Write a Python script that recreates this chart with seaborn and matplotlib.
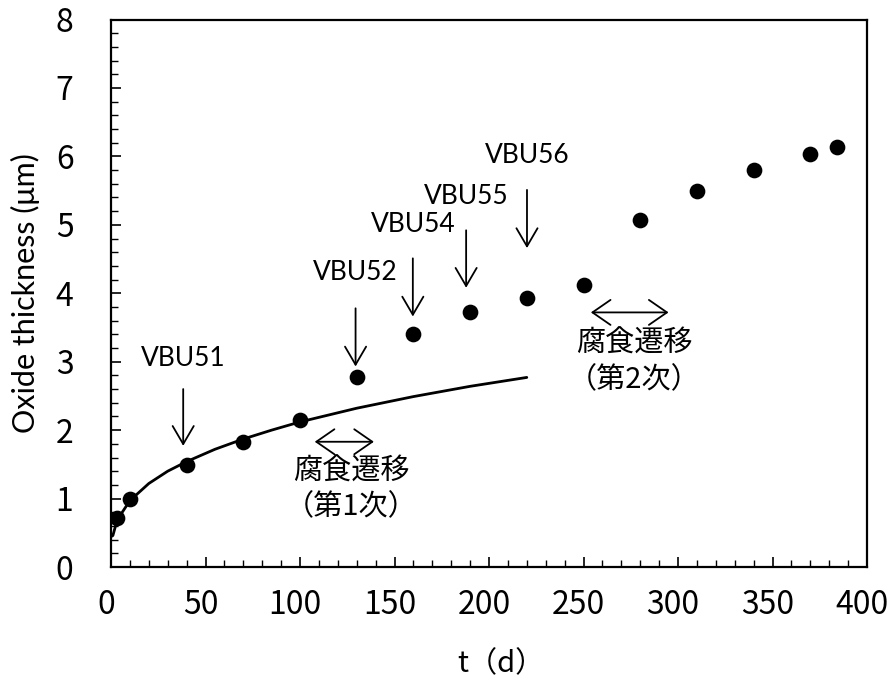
import matplotlib
matplotlib.use("Agg")
import matplotlib.pyplot as plt
import matplotlib.transforms as mtransforms
from matplotlib.ticker import MultipleLocator
import seaborn as sns
import pandas as pd

# measured oxide thickness
t_days = [3, 10, 40, 70, 100, 130, 160, 190, 220, 250, 280, 310, 340, 370, 384]
thickness = [0.71, 0.99, 1.49, 1.83, 2.15, 2.77, 3.41, 3.73, 3.93, 4.12, 5.07, 5.50, 5.80, 6.04, 6.14]

# fitted curve
curve_t = [0.5, 1, 3, 5, 10, 20, 30, 40, 55, 70, 85, 100, 130, 160, 190, 220]
curve_y = [0.45, 0.46, 0.66, 0.76, 0.97, 1.22, 1.40, 1.54, 1.72, 1.87, 2.00, 2.12, 2.32, 2.49, 2.64, 2.77]

# sample annotations
vbu_labels = ["VBU51", "VBU52", "VBU54", "VBU55", "VBU56"]
vbu_x = [38.2, 129.4, 159.7, 187.9, 220.1]
vbu_top = [2.60, 3.78, 4.51, 4.92, 5.51]
vbu_tip = [1.77, 2.93, 3.66, 4.08, 4.66]
vbu_text_y = [3.05, 4.30, 5.00, 5.41, 6.01]

# transition annotations
trans_start = [107.8, 253.9]
trans_end = [139.1, 295.0]
trans_y = [1.83, 3.72]
trans_cx = [127.2, 276.8]
trans_line1_y = [1.39, 3.27]
trans_line2_y = [0.88, 2.73]
trans_line1 = ["腐食遷移", "腐食遷移"]
trans_line2 = ["（第1次）", "（第2次）"]

xticks = [0, 50, 100, 150, 200, 250, 300, 350, 400]
yticks = [0, 1, 2, 3, 4, 5, 6, 7, 8]

sns.set_style("ticks")
plt.rcParams['font.family'] = ['Noto Sans CJK JP', 'DejaVu Sans']
plt.rcParams['text.color'] = 'black'
plt.rcParams['axes.labelcolor'] = 'black'
plt.rcParams['xtick.color'] = 'black'
plt.rcParams['ytick.color'] = 'black'

fig = plt.figure(figsize=(8.9, 6.81), dpi=100)
ax = fig.add_axes([111/890, 1 - 567/681, (867 - 111)/890, (567 - 19.5)/681])

df_pts = pd.DataFrame({"t": t_days, "y": thickness})
df_curve = pd.DataFrame({"t": curve_t, "y": curve_y})

sns.lineplot(data=df_curve, x="t", y="y", ax=ax, color="black", linewidth=2.0,
             sort=True, zorder=2)
sns.scatterplot(data=df_pts, x="t", y="y", ax=ax, color="black", s=128,
                edgecolor="black", linewidth=0, zorder=3)

ax.set_xlim(0, 400)
ax.set_ylim(0, 8)
ax.set_xticks(xticks)
ax.set_yticks(yticks)
ax.xaxis.set_minor_locator(MultipleLocator(10))
ax.yaxis.set_minor_locator(MultipleLocator(0.2))
ax.tick_params(which="major", direction="in", length=7, width=1.2, colors="black",
               labelcolor="black", labelsize=23)
ax.tick_params(which="minor", direction="in", length=5, width=1.0, colors="black")
ax.tick_params(axis="x", which="major", pad=16)
ax.tick_params(axis="y", which="major", pad=27)
for sp in ax.spines.values():
    sp.set_linewidth(1.6)
    sp.set_color("black")
    sp.set_visible(True)

offset = mtransforms.ScaledTranslation(-5/100, 0, fig.dpi_scale_trans)
for lab in ax.get_xticklabels():
    lab.set_transform(lab.get_transform() + offset)

ax.set_xlabel("t（d）", fontsize=21, labelpad=20, color="black", x=0.5 + 12/756)
ax.set_ylabel("Oxide thickness (μm)", fontsize=22, family=["Lato", "DejaVu Sans"],
              labelpad=11, color="black")

for lab, x, top, tip, ty in zip(vbu_labels, vbu_x, vbu_top, vbu_tip, vbu_text_y):
    ax.annotate("", xy=(x, tip), xytext=(x, top),
                arrowprops=dict(arrowstyle="->,head_length=0.65,head_width=0.38",
                                lw=1.3, color="black", shrinkA=0, shrinkB=0,
                                mutation_scale=20))
    ax.text(x, ty, lab, ha="center", va="center", fontsize=19,
            family=["Lato", "DejaVu Sans"], color="black")

for xs, xe, y, cx, y1, y2, l1, l2 in zip(trans_start, trans_end, trans_y, trans_cx,
                                         trans_line1_y, trans_line2_y,
                                         trans_line1, trans_line2):
    ax.annotate("", xy=(xe, y), xytext=(xs, y),
                arrowprops=dict(arrowstyle="<->,head_length=0.65,head_width=0.45",
                                lw=1.3, color="black", shrinkA=0, shrinkB=0,
                                mutation_scale=20))
    ax.text(cx, y1, l1, ha="center", va="center", fontsize=21, color="black")
    ax.text(cx, y2, l2, ha="center", va="center", fontsize=21, color="black")

fig.savefig("out.png", dpi=100)
